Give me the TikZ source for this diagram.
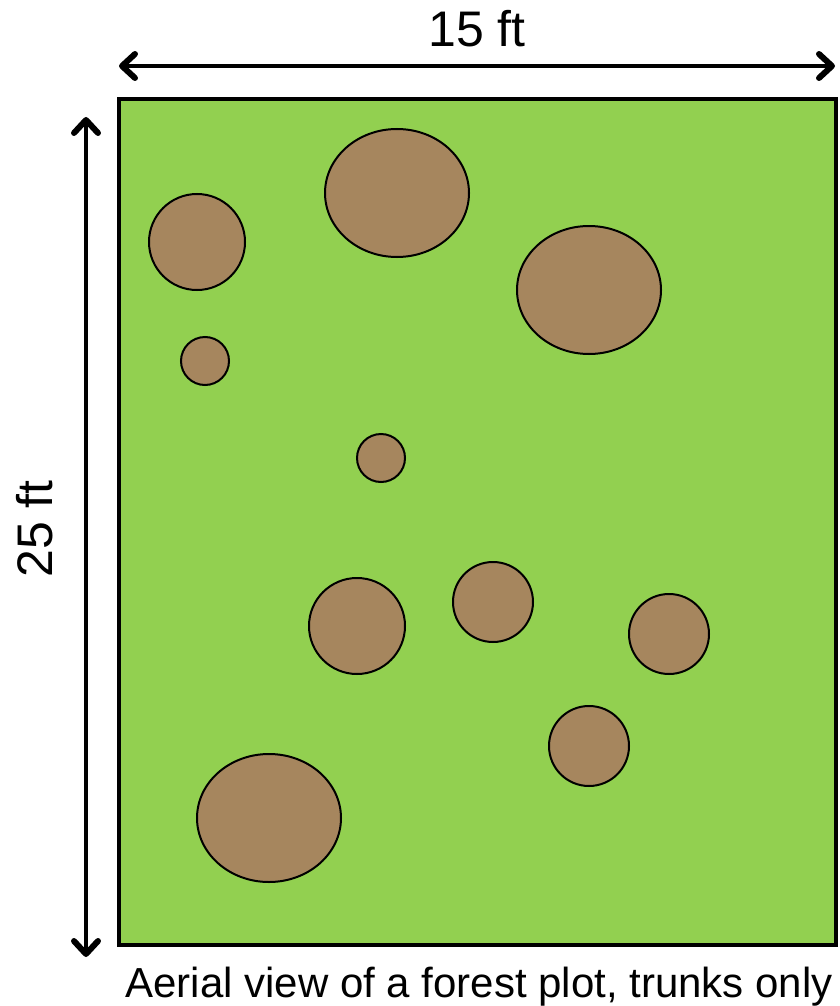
\documentclass[tikz,border=0pt]{standalone}
\usepackage{fontspec}
\setmainfont{Liberation Sans}
\usepackage{tikz}
\usetikzlibrary{arrows.meta}
\definecolor{grass}{RGB}{146, 208, 80}
\definecolor{bark}{RGB}{166, 134, 94}

\tikzset{
    trunk/.style={draw=black, fill=bark, line width=2pt},
    barb/.tip={Straight Barb[length=13pt, width=24pt, line width=6pt 0, line cap=round, line join=round]},
    dimline/.style={line width=4pt, line cap=round, barb-barb},
    dimlabel/.style={font=\fontsize{50}{60}\selectfont, inner sep=0pt, anchor=base}
}

\begin{document}
\begin{tikzpicture}[x=1pt, y=-1pt]
    \useasboundingbox (0,0) rectangle (839,1006);

    % the plot
    \draw[fill=grass, line width=4pt] (119,99) rectangle (836,945);

    % trunks: x / y / x radius / y radius
    \foreach \x/\y/\rx/\ry in {197/242/48/48, 397/193/72/64, 589/290/72/64,
        205/361/24/24, 381/458/24/24, 357/626/48/48, 493/602/40/40,
        669/634/40/40, 589/746/40/40, 269/818/72/64}
      \draw[trunk] (\x,\y) ellipse [x radius=\rx pt, y radius=\ry pt];

    % dimensions
    \coordinate (widthL) at (119,66);
    \coordinate (widthR) at (835,66);
    \coordinate (heightT) at (86,117);
    \coordinate (heightB) at (86,957);
    \draw[dimline] (widthL) -- (widthR);
    \draw[dimline] (heightT) -- (heightB);
    \node[dimlabel] (widthlabel) at (477,47) {15 ft};
    \node[dimlabel, rotate=90] (heightlabel) at (52,529) {25 ft};

    \node[font=\fontsize{42}{50}\selectfont, inner sep=0pt, anchor=base] (caption) at (479,997)
      {Aerial view of a forest plot, trunks only};
\end{tikzpicture}
\end{document}
